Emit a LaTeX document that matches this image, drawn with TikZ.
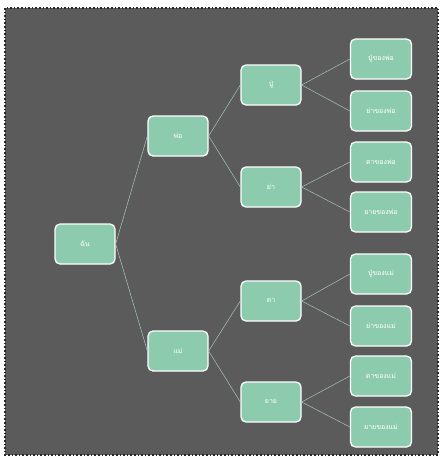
\documentclass[tikz,border=0pt]{standalone}
\usepackage{fontspec}
\newfontfamily\thaifont[Script=Thai]{Loma}
\usepackage{xcolor}
\usepackage{tikz}
\usetikzlibrary{positioning}

\definecolor{board}{HTML}{5B5B5B}
\definecolor{mint}{HTML}{8DCBAE}
\definecolor{twig}{HTML}{A9C4B8}

\begin{document}
\begin{tikzpicture}[
  x=1pt, y=-1pt,
  box/.style={rectangle, rounded corners=5pt, draw=white, line width=1.3pt, fill=mint,
    minimum width=60pt, minimum height=40pt, text=white, font=\thaifont\fontsize{7}{8}\selectfont},
  leaf/.style={box, minimum width=61pt},
  link/.style={draw=twig, line width=0.5pt},
]

%% --- canvas ---
\useasboundingbox (0,0) rectangle (442,459);
\fill[white] (0,0) rectangle (442,459);
\draw[black!85, fill=board, dotted, line width=1.6pt] (5,8) rectangle (438,455);

%% --- root and parents ---
\node[box] (me)     at (85,244)  {ฉัน};
\node[box] (father) at (178,136) {พ่อ};
\node[box] (mother) at (178,351) {แม่};

%% --- grandparents ---
\node[box] (pu)  at (271,85)  {ปู่};
\node[box] (ya)  at (271,187) {ย่า};
\node[box] (ta)  at (271,301) {ตา};
\node[box] (yai) at (271,402) {ยาย};

%% --- leaves ---
\node[leaf] (l1) at (381,59)  {ปู่ของพ่อ};
\node[leaf] (l2) at (381,111) {ย่าของพ่อ};
\node[leaf] (l3) at (381,162) {ตาของพ่อ};
\node[leaf] (l4) at (381,212) {ยายของพ่อ};
\node[leaf] (l5) at (381,274) {ปู่ของแม่};
\node[leaf] (l6) at (381,326) {ย่าของแม่};
\node[leaf] (l7) at (381,376) {ตาของแม่};
\node[leaf] (l8) at (381,427) {ยายของแม่};

%% --- links ---
\draw[link] (me.east) -- (father.west);
\draw[link] (me.east) -- (mother.west);
\draw[link] (father.east) -- (pu.west);
\draw[link] (father.east) -- (ya.west);
\draw[link] (mother.east) -- (ta.west);
\draw[link] (mother.east) -- (yai.west);
\draw[link] (pu.east)  -- (l1.west);
\draw[link] (pu.east)  -- (l2.west);
\draw[link] (ya.east)  -- (l3.west);
\draw[link] (ya.east)  -- (l4.west);
\draw[link] (ta.east)  -- (l5.west);
\draw[link] (ta.east)  -- (l6.west);
\draw[link] (yai.east) -- (l7.west);
\draw[link] (yai.east) -- (l8.west);

\end{tikzpicture}
\end{document}
